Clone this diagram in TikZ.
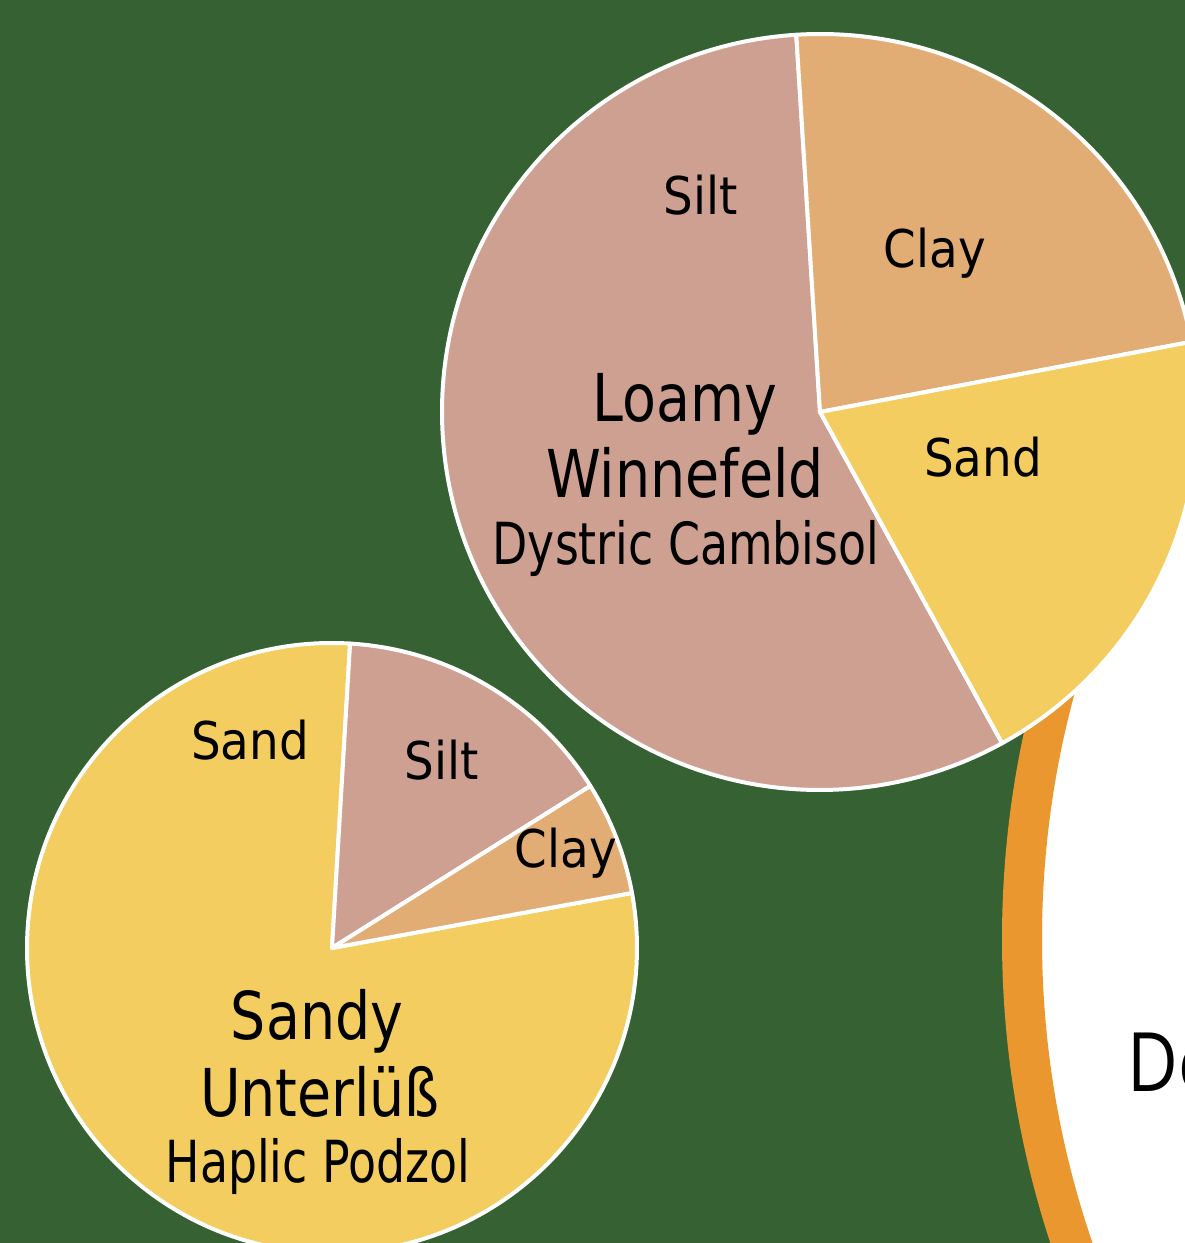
\documentclass[tikz,border=0pt]{standalone}
\usepackage{fontspec}
\setmainfont{DejaVu Sans}[FakeStretch=0.9]
\newfontfamily\sitefont{DejaVu Sans}[FakeStretch=0.84]
\newfontfamily\soilfont{DejaVu Sans}[FakeStretch=0.79]
\newfontfamily\ringfont{Open Sans}[FakeStretch=0.85]
\usepackage{tikz}

\definecolor{bggreen}{RGB}{54,97,50}
\definecolor{silt}{RGB}{205,160,146}
\definecolor{clay}{RGB}{226,172,117}
\definecolor{sand}{RGB}{243,205,96}
\definecolor{ringorange}{RGB}{233,151,46}

\begin{document}
\begin{tikzpicture}[line cap=round, line join=round, x=1pt, y=1pt,
    slice/.style={draw=white, line width=4pt},
    part/.style={anchor=base, font=\fontsize{52}{60}\selectfont},
    site/.style={anchor=base, font=\sitefont\fontsize{66}{76}\selectfont},
    soil/.style={anchor=base, font=\soilfont\fontsize{58}{66}\selectfont}]
                \clip (0, 0) rectangle (1185, 1243);
                \fill[bggreen] (0, 0) rectangle (1185, 1243);
                % ring on the right
                \coordinate (ringc) at (1977, 304);
                \draw[ringorange, line width=40pt, fill=white] (ringc) circle[radius=955];
                \node[anchor=base west, inner sep=0pt, font=\ringfont\fontsize{82}{90}\selectfont] (ringtext) at (1127, 151) {De};
                % centres of the two pies
                \coordinate (topc) at (820, 831);
                \coordinate (botc) at (332, 295);
                \foreach \a/\b/\c in {93.6/298.8/silt, 10.7/93.6/clay, -61.2/10.7/sand}
                    \draw[slice, fill=\c] (topc) -- ++(\a:378) arc[start angle=\a, end angle=\b, radius=378] -- cycle;
                \foreach \a/\b/\c in {86.6/370.4/sand, 32.1/86.6/silt, 10.4/32.1/clay}
                    \draw[slice, fill=\c] (botc) -- ++(\a:305) arc[start angle=\a, end angle=\b, radius=305] -- cycle;
                % labels of the top pie
                \node[part] (topsilt) at (701, 1028) {Silt};
                \node[part] (topclay) at (935, 975) {Clay};
                \node[part] (topsand) at (983, 766) {Sand};
                \node[site] (loamy) at (685, 821) {Loamy};
                \node[site] (winnefeld) at (685, 745) {Winnefeld};
                \node[soil] (cambisol) at (686, 678) {Dystric Cambisol};
                % labels of the bottom pie
                \node[part] (botsand) at (250, 483) {Sand};
                \node[part] (botsilt) at (442, 463) {Silt};
                \node[part] (botclay) at (566, 375) {Clay};
                \node[site] (sandy) at (317, 203) {Sandy};
                \node[site] (unterluess) at (320, 126) {Unterlüß};
                \node[soil] (podzol) at (318, 60) {Haplic Podzol};
            \end{tikzpicture}
\end{document}
